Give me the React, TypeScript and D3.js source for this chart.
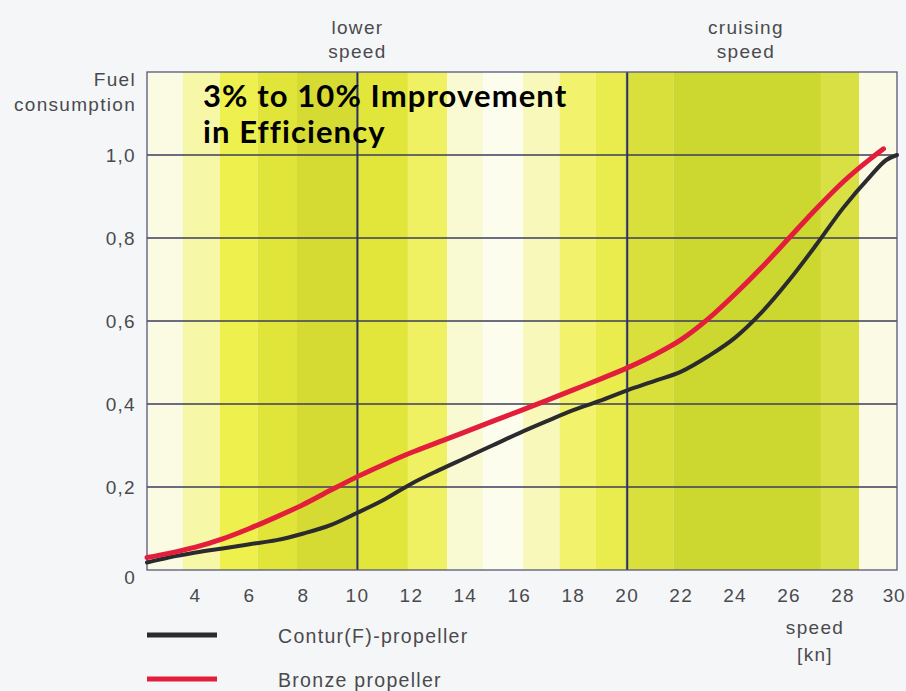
import React from "react";
import * as d3 from "d3";

// ---------- data ----------
const speedTicks = [4, 6, 8, 10, 12, 14, 16, 18, 20, 22, 24, 26, 28, 30];
const fuelTicks = [0, 0.2, 0.4, 0.6, 0.8, 1.0];
const fuelTickLabels = ["0", "0,2", "0,4", "0,6", "0,8", "1,0"];
const markerSpeeds = [10, 20];
const markerLabels = [["lower", "speed"], ["cruising", "speed"]];
const markerLabelSpeeds = [10, 24.4];

const conturSpeed = [2.2, 3, 4, 5, 6, 7, 8, 9, 10, 11, 12, 13, 14, 15, 16, 17, 18, 19, 20, 21, 22, 23, 24, 25, 26, 27, 28, 29, 29.6, 30];
const conturFuel = [0.018, 0.03, 0.042, 0.052, 0.062, 0.072, 0.088, 0.108, 0.138, 0.17, 0.208, 0.24, 0.27, 0.3, 0.33, 0.358, 0.385, 0.408, 0.433, 0.455, 0.478, 0.515, 0.56, 0.622, 0.698, 0.783, 0.872, 0.948, 0.988, 1.0];

const bronzeSpeed = [2.2, 3, 4, 5, 6, 7, 8, 9, 10, 11, 12, 13, 14, 15, 16, 17, 18, 19, 20, 21, 22, 23, 24, 25, 26, 27, 28, 29, 29.5];
const bronzeFuel = [0.03, 0.04, 0.055, 0.075, 0.1, 0.128, 0.158, 0.192, 0.225, 0.255, 0.283, 0.308, 0.333, 0.358, 0.383, 0.408, 0.434, 0.46, 0.487, 0.518, 0.555, 0.605, 0.665, 0.73, 0.8, 0.87, 0.935, 0.99, 1.015];

const bandStarts = [2.2, 3.53, 4.9, 6.3, 7.76, 10.02, 11.87, 13.32, 14.65, 16.14, 17.5, 18.84, 19.9, 21.73, 27.18, 28.6];
const bandEnds = [3.53, 4.9, 6.3, 7.76, 10.02, 11.87, 13.32, 14.65, 16.14, 17.5, 18.84, 19.9, 21.73, 27.18, 28.6, 30];
const bandColors = ["#fbfbe4", "#f7f7a8", "#eef04e", "#e1e53a", "#d5db32", "#e2e63a", "#eff062", "#fafad2", "#fdfdee", "#f8f8ba", "#f2f26c", "#eaec4e", "#d9e03c", "#ccd730", "#d9e044", "#fbfae4"];

const seriesNames = ["Contur(F)-propeller", "Bronze propeller"];
const seriesColors = ["#2b2b2d", "#e31e3c"];

// ---------- layout ----------
const W = 906;
const H = 691;
const left = 147;
const right = 897;
const top = 72;
const bottom = 570;

export default function App() {
  const x = d3.scaleLinear().domain([2.2, 30]).range([left, right]);
  const y = d3.scaleLinear().domain([0, 1.2]).range([bottom, top]);

  const lineGen = d3
    .line<[number, number]>()
    .x((d) => x(d[0]))
    .y((d) => y(d[1]))
    .curve(d3.curveMonotoneX);

  const contur = lineGen(conturSpeed.map((s, i) => [s, conturFuel[i]]) as [number, number][]);
  const bronze = lineGen(bronzeSpeed.map((s, i) => [s, bronzeFuel[i]]) as [number, number][]);

  const labelFont = "'Liberation Sans', Arial, sans-serif";
  const labelColor = "#4a4a4e";
  const fs = 19;
  const ls = 1.3;

  const T = (props: any) => (
    <text fontFamily={labelFont} fontSize={fs} letterSpacing={ls} fill={labelColor} {...props} />
  );

  const lastTick = speedTicks[speedTicks.length - 1];

  return (
    <svg width={W} height={H} style={{ position: "absolute", left: 0, top: 0 }} xmlns="http://www.w3.org/2000/svg">
      <rect x={0} y={0} width={W} height={H} fill="#f5f6f8" />
      {/* bands */}
      {bandStarts.map((s, i) => (
        <rect key={i} x={x(s)} y={top} width={x(bandEnds[i]) - x(s)} height={bottom - top} fill={bandColors[i]} />
      ))}
      {/* horizontal grid */}
      {fuelTicks.filter((t) => t > 0).map((t) => (
        <line key={t} x1={left} x2={right} y1={y(t)} y2={y(t)} stroke="#3d3d5c" strokeWidth={1.4} />
      ))}
      {/* markers */}
      {markerSpeeds.map((s) => (
        <line key={s} x1={x(s)} x2={x(s)} y1={top} y2={bottom} stroke="#2a3066" strokeWidth={2} />
      ))}
      {/* frame */}
      <rect x={left} y={top} width={right - left} height={bottom - top} fill="none" stroke="#56567a" strokeWidth={1.3} />

      {/* curves */}
      <path d={contur ?? ""} fill="none" stroke={seriesColors[0]} strokeWidth={4} strokeLinecap="round" />
      <path d={bronze ?? ""} fill="none" stroke={seriesColors[1]} strokeWidth={5} strokeLinecap="round" />

      {/* y tick labels */}
      {fuelTicks.map((t, i) => (
        <T key={t} x={136} y={y(t) + (t === 0 ? 7 : 0)} dy="0.35em" textAnchor="end">
          {fuelTickLabels[i]}
        </T>
      ))}
      <T x={136} y={86} textAnchor="end">Fuel</T>
      <T x={136} y={111} textAnchor="end">consumption</T>

      {/* x tick labels */}
      {speedTicks.map((t) => (
        <T key={t} x={t === lastTick ? W - 1 : x(t)} y={602} textAnchor={t === lastTick ? "end" : "middle"} letterSpacing={t === lastTick ? 0.5 : ls}>
          {t}
        </T>
      ))}
      <T x={815} y={634} textAnchor="middle">speed</T>
      <T x={815} y={661} textAnchor="middle">[kn]</T>

      {/* marker labels */}
      {markerLabels.map((lines, i) => (
        <g key={i}>
          <T x={x(markerLabelSpeeds[i])} y={34} textAnchor="middle">{lines[0]}</T>
          <T x={x(markerLabelSpeeds[i])} y={58} textAnchor="middle">{lines[1]}</T>
        </g>
      ))}

      {/* title overlay */}
      <text x={203} y={107} fontFamily="Lato, 'Open Sans', sans-serif" fontWeight="bold" fontSize={31} letterSpacing={1.1} fill="#000">3% to 10% Improvement</text>
      <text x={203} y={143} fontFamily="Lato, 'Open Sans', sans-serif" fontWeight="bold" fontSize={31} letterSpacing={1.1} fill="#000">in Efficiency</text>

      {/* legend */}
      {seriesNames.map((n, i) => (
        <g key={n}>
          <line x1={147} x2={217} y1={635 + i * 44} y2={635 + i * 44} stroke={seriesColors[i]} strokeWidth={5} />
          <T x={278} y={643 + i * 44} fontSize={19.5}>{n}</T>
        </g>
      ))}
    </svg>
  );
}
